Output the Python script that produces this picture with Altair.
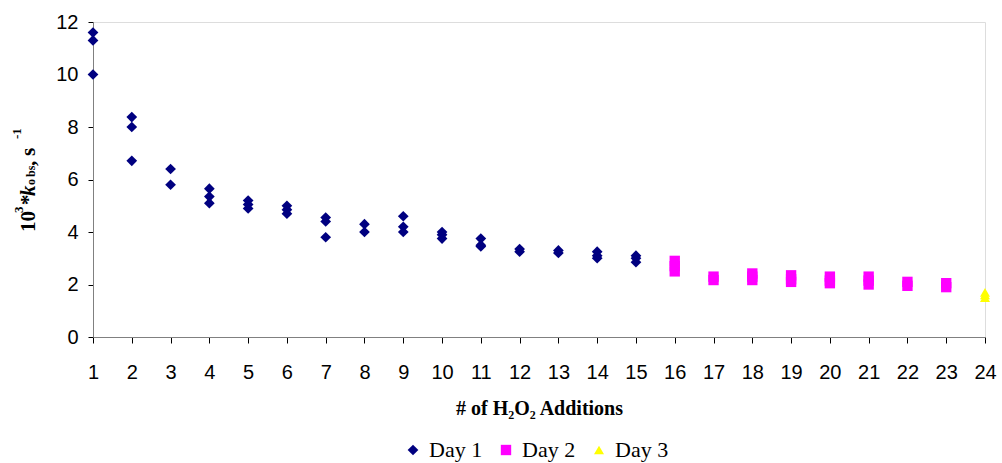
import altair as alt
import pandas as pd

# Observed rate constants (10^3 * k_obs, s^-1) per H2O2 addition, grouped by day
day1_additions = [1, 1, 1, 2, 2, 2, 3, 3, 4, 4, 4, 5, 5, 5, 6, 6, 6, 7, 7, 7,
                  8, 8, 9, 9, 9, 10, 10, 10, 11, 11, 11, 12, 12, 13, 13,
                  14, 14, 14, 15, 15, 15]
day1_kobs = [11.6, 11.3, 10.0, 8.38, 8.0, 6.71, 6.4, 5.8, 5.65, 5.35, 5.1,
             5.2, 5.05, 4.9, 5.0, 4.85, 4.7, 4.55, 4.4, 3.8,
             4.3, 4.0, 4.6, 4.2, 4.0, 4.0, 3.9, 3.75, 3.75, 3.5, 3.45,
             3.35, 3.25, 3.3, 3.2, 3.25, 3.1, 3.0, 3.1, 3.0, 2.85]

day2_additions = [16, 16, 16, 17, 17, 18, 18, 18, 19, 19, 19, 20, 20, 20,
                  21, 21, 21, 22, 22, 23, 23]
day2_kobs = [2.9, 2.7, 2.5, 2.3, 2.17, 2.42, 2.3, 2.17, 2.35, 2.2, 2.1,
             2.3, 2.15, 2.05, 2.3, 2.15, 2.0, 2.1, 1.95, 2.05, 1.9]

day3_additions = [24, 24, 24]
day3_kobs = [1.7, 1.6, 1.5]

day_names = ["Day 1", "Day 2", "Day 3"]
day_colors = ["#000080", "#FF00FF", "#FFFF00"]
day_shapes = ["diamond", "square", "triangle-up"]
day_sizes = [115, 100, 150]

x_ticks = list(range(1, 25))
y_ticks = [0, 2, 4, 6, 8, 10, 12]

rows = []
for name, xs, ys in zip(day_names,
                        [day1_additions, day2_additions, day3_additions],
                        [day1_kobs, day2_kobs, day3_kobs]):
    for xv, yv in zip(xs, ys):
        rows.append({"additions": xv, "kobs": yv, "day": name})
df = pd.DataFrame(rows)

W, H = 892, 315
SANS = "Liberation Sans"
SERIF = "Liberation Serif"


def day_legend():
    return alt.Legend(title=None, orient="none", direction="horizontal",
                      legendX=309, legendY=417,
                      labelFont=SERIF, labelFontSize=22, labelColor="#000",
                      labelOffset=5, columnPadding=12, symbolStrokeWidth=0)


points = alt.Chart(df).mark_point(filled=True, opacity=1).encode(
    x=alt.X("additions:Q",
            scale=alt.Scale(domain=[1, 24], nice=False, zero=False),
            axis=alt.Axis(values=x_ticks, title="# of H₂O₂ Additions",
                          grid=False, tickSize=6, labelPadding=19,
                          labelFontSize=20, labelFont=SANS, labelColor="#000",
                          titleFont=SERIF, titleFontSize=20, titleFontWeight="bold",
                          titleColor="#000", titlePadding=16,
                          domainColor="#808080", tickColor="#000",
                          labelFlush=False)),
    y=alt.Y("kobs:Q",
            scale=alt.Scale(domain=[0, 12], nice=False),
            axis=alt.Axis(values=y_ticks, title=None, grid=False, tickSize=5,
                          labelPadding=10, labelFontSize=20, labelFont=SANS,
                          labelColor="#000", domainColor="#808080",
                          tickColor="#000")),
    color=alt.Color("day:N", scale=alt.Scale(domain=day_names, range=day_colors),
                    legend=day_legend()),
    shape=alt.Shape("day:N", scale=alt.Scale(domain=day_names, range=day_shapes),
                    legend=day_legend()),
    size=alt.Size("day:N", scale=alt.Scale(domain=day_names, range=day_sizes),
                  legend=None),
)

# Rotated y-axis title assembled from pieces: 10^3*k_obs, s^-1
title_parts = [
    # text, y position, x (baseline), size, style
    ("10", 210, -58, 21, "normal"),
    ("3", 191, -70, 13, "normal"),
    ("*", 183, -58, 21, "normal"),
    ("k", 174, -58, 21, "italic"),
    ("o", 163, -58, 12, "normal"),
    ("bs", 155, -58, 12, "normal"),
    (",", 144, -58, 21, "normal"),
    ("s", 134, -58, 21, "normal"),
    ("-1", 117, -72, 13, "normal"),
]
title_layers = []
for txt, ypos, xpos, fs, style in title_parts:
    title_layers.append(
        alt.Chart(pd.DataFrame({"t": [txt]})).mark_text(
            angle=270, align="left", baseline="alphabetic",
            font=SERIF, fontSize=fs, fontWeight="bold", fontStyle=style,
            color="#000"
        ).encode(text="t:N", x=alt.value(xpos), y=alt.value(ypos))
    )

chart = alt.layer(points, *title_layers).properties(
    width=W, height=H,
    autosize=alt.AutoSizeParams(type="none"),
    padding={"left": 93, "top": 22, "right": 17, "bottom": 126},
).configure_view(stroke=None).configure(background="white")

chart.save("out.html", embed_options={"renderer": "svg", "actions": False})
